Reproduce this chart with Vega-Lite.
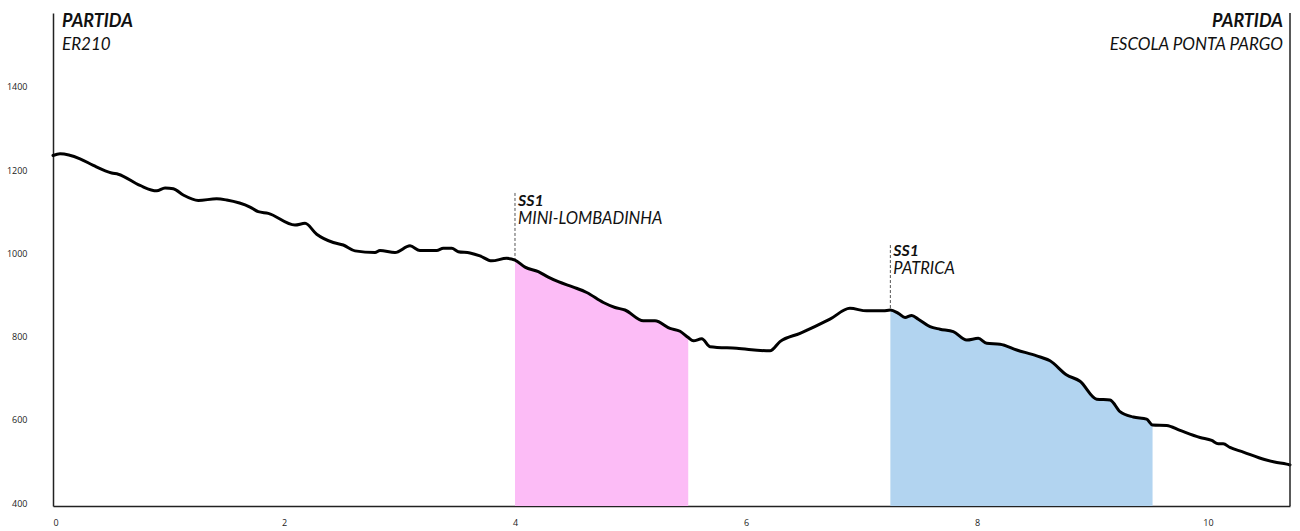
{
  "$schema": "https://vega.github.io/schema/vega-lite/v6.json",
  "width": 1237,
  "height": 493,
  "autosize": "none",
  "padding": {"left": 53, "top": 13, "right": 10, "bottom": 25},
  "background": "white",
  "config": {
    "view": {"stroke": null},
    "font": "Lato",
    "axis": {"domainColor": "#222222", "domainWidth": 1.5, "ticks": false, "grid": false, "labelFont": "Open Sans", "labelFontSize": 9, "labelColor": "#222222", "title": null}
  },
  "datasets": {
    "profile": [
      {"km": 0, "elev": 1235}, {"km": 0.061, "elev": 1239}, {"km": 0.234, "elev": 1227}, {"km": 0.349, "elev": 1211},
      {"km": 0.508, "elev": 1193}, {"km": 0.565, "elev": 1190}, {"km": 0.753, "elev": 1163}, {"km": 0.898, "elev": 1150},
      {"km": 0.97, "elev": 1157}, {"km": 1.042, "elev": 1155}, {"km": 1.128, "elev": 1140}, {"km": 1.258, "elev": 1127},
      {"km": 1.417, "elev": 1131}, {"km": 1.504, "elev": 1128}, {"km": 1.706, "elev": 1111}, {"km": 1.777, "elev": 1100},
      {"km": 1.864, "elev": 1096}, {"km": 2.095, "elev": 1068}, {"km": 2.182, "elev": 1072}, {"km": 2.283, "elev": 1046},
      {"km": 2.427, "elev": 1026}, {"km": 2.513, "elev": 1020}, {"km": 2.615, "elev": 1006}, {"km": 2.788, "elev": 1002},
      {"km": 2.831, "elev": 1007}, {"km": 2.961, "elev": 1002}, {"km": 3.091, "elev": 1018}, {"km": 3.177, "elev": 1007},
      {"km": 3.322, "elev": 1007}, {"km": 3.379, "elev": 1012}, {"km": 3.452, "elev": 1012}, {"km": 3.509, "elev": 1004},
      {"km": 3.61, "elev": 1001}, {"km": 3.697, "elev": 994}, {"km": 3.798, "elev": 982}, {"km": 3.928, "elev": 988},
      {"km": 4.0, "elev": 984, "seg": "a"}, {"km": 4.087, "elev": 967, "seg": "a"}, {"km": 4.202, "elev": 956, "seg": "a"},
      {"km": 4.288, "elev": 943, "seg": "a"}, {"km": 4.375, "elev": 932, "seg": "a"}, {"km": 4.505, "elev": 919, "seg": "a"},
      {"km": 4.621, "elev": 906, "seg": "a"}, {"km": 4.765, "elev": 882, "seg": "a"}, {"km": 4.866, "elev": 870, "seg": "a"},
      {"km": 4.952, "elev": 864, "seg": "a"}, {"km": 5.111, "elev": 838, "seg": "a"}, {"km": 5.212, "elev": 838, "seg": "a"},
      {"km": 5.342, "elev": 820, "seg": "a"}, {"km": 5.429, "elev": 813, "seg": "a"}, {"km": 5.5, "elev": 798, "seg": "a"},
      {"km": 5.545, "elev": 790}, {"km": 5.617, "elev": 795}, {"km": 5.688, "elev": 776}, {"km": 5.919, "elev": 772},
      {"km": 6.208, "elev": 766}, {"km": 6.294, "elev": 788}, {"km": 6.468, "elev": 808}, {"km": 6.727, "elev": 842},
      {"km": 6.9, "elev": 868}, {"km": 7.045, "elev": 862}, {"km": 7.189, "elev": 862},
      {"km": 7.25, "elev": 864, "seg": "b"}, {"km": 7.319, "elev": 856, "seg": "b"}, {"km": 7.377, "elev": 846, "seg": "b"},
      {"km": 7.435, "elev": 851, "seg": "b"}, {"km": 7.492, "elev": 842, "seg": "b"}, {"km": 7.593, "elev": 824, "seg": "b"},
      {"km": 7.68, "elev": 818, "seg": "b"}, {"km": 7.795, "elev": 812, "seg": "b"}, {"km": 7.911, "elev": 792, "seg": "b"},
      {"km": 8.011, "elev": 796, "seg": "b"}, {"km": 8.084, "elev": 784, "seg": "b"}, {"km": 8.199, "elev": 782, "seg": "b"},
      {"km": 8.344, "elev": 768, "seg": "b"}, {"km": 8.517, "elev": 754, "seg": "b"}, {"km": 8.632, "elev": 742, "seg": "b"},
      {"km": 8.777, "elev": 708, "seg": "b"}, {"km": 8.892, "elev": 693, "seg": "b"}, {"km": 9.036, "elev": 650, "seg": "b"},
      {"km": 9.152, "elev": 648, "seg": "b"}, {"km": 9.238, "elev": 620, "seg": "b"}, {"km": 9.353, "elev": 607, "seg": "b"},
      {"km": 9.469, "elev": 602, "seg": "b"}, {"km": 9.52, "elev": 588, "seg": "b"},
      {"km": 9.642, "elev": 587}, {"km": 9.758, "elev": 575}, {"km": 9.931, "elev": 558}, {"km": 10.032, "elev": 551},
      {"km": 10.089, "elev": 543}, {"km": 10.132, "elev": 543}, {"km": 10.19, "elev": 534}, {"km": 10.306, "elev": 523},
      {"km": 10.489, "elev": 505}, {"km": 10.576, "elev": 499}, {"km": 10.681, "elev": 494}, {"km": 10.71, "elev": 492}
    ],
    "stages": [
      {"km": 4.0, "top": 1145, "base": 984},
      {"km": 7.25, "top": 1020, "base": 864}
    ],
    "labels": [
      {"km": 4.0, "elev": 1114, "label": "SS1", "kind": "title", "group": "stage"},
      {"km": 4.0, "elev": 1071, "label": "MINI-LOMBADINHA", "kind": "sub", "group": "stage"},
      {"km": 7.25, "elev": 994, "label": "SS1", "kind": "title", "group": "stage"},
      {"km": 7.25, "elev": 951, "label": "PATRICA", "kind": "sub", "group": "stage"},
      {"km": 0, "elev": 1544, "label": "PARTIDA", "kind": "title", "group": "startL"},
      {"km": 0, "elev": 1489, "label": "ER210", "kind": "sub", "group": "startL"},
      {"km": 10.71, "elev": 1544, "label": "PARTIDA", "kind": "title", "group": "startR"},
      {"km": 10.71, "elev": 1489, "label": "ESCOLA PONTA PARGO", "kind": "sub", "group": "startR"}
    ]
  },
  "layer": [
    {
      "data": {"name": "profile"},
      "transform": [{"filter": "datum.seg != null"}],
      "mark": {"type": "area", "interpolate": "monotone", "opacity": 1},
      "encoding": {
        "x": {"field": "km", "type": "quantitative", "scale": {"domain": [0, 10.71], "nice": false, "zero": false}, "axis": {"values": [0, 2, 4, 6, 8, 10], "format": "d", "labelPadding": 12, "labelAngle": 0}},
        "y": {"field": "elev", "type": "quantitative", "scale": {"domain": [393.5, 1577], "nice": false, "zero": false}, "axis": {"values": [400, 600, 800, 1000, 1200, 1400], "format": "d", "labelPadding": 26}},
        "y2": {"datum": 393.5},
        "color": {"field": "seg", "type": "nominal", "scale": {"domain": ["a", "b"], "range": ["#fcbcf6", "#b2d4f0"]}, "legend": null}
      }
    },
    {
      "data": {"name": "stages"},
      "mark": {"type": "rule", "color": "#555555", "strokeWidth": 1, "strokeDash": [3, 2]},
      "encoding": {
        "x": {"field": "km", "type": "quantitative"},
        "y": {"field": "top", "type": "quantitative"},
        "y2": {"field": "base"}
      }
    },
    {
      "data": {"name": "profile"},
      "mark": {"type": "line", "interpolate": "monotone", "color": "#000000", "strokeWidth": 3, "strokeJoin": "round", "strokeCap": "round"},
      "encoding": {
        "x": {"field": "km", "type": "quantitative"},
        "y": {"field": "elev", "type": "quantitative"}
      }
    },
    {
      "data": {"values": [{"edge": 10.71}]},
      "mark": {"type": "rule", "color": "#222222", "strokeWidth": 1.5},
      "encoding": {"x": {"field": "edge", "type": "quantitative"}}
    },
    {
      "data": {"name": "labels"},
      "transform": [{"filter": "datum.group == 'stage' && datum.kind == 'title'"}],
      "mark": {"type": "text", "align": "left", "baseline": "alphabetic", "dx": 3, "fontSize": 16, "fontWeight": "bold", "fontStyle": "italic", "color": "#111111"},
      "encoding": {"x": {"field": "km", "type": "quantitative"}, "y": {"field": "elev", "type": "quantitative"}, "text": {"field": "label"}}
    },
    {
      "data": {"name": "labels"},
      "transform": [{"filter": "datum.group == 'stage' && datum.kind == 'sub'"}],
      "mark": {"type": "text", "align": "left", "baseline": "alphabetic", "dx": 3, "fontSize": 16.5, "fontStyle": "italic", "color": "#111111"},
      "encoding": {"x": {"field": "km", "type": "quantitative"}, "y": {"field": "elev", "type": "quantitative"}, "text": {"field": "label"}}
    },
    {
      "data": {"name": "labels"},
      "transform": [{"filter": "datum.group == 'startL' && datum.kind == 'title'"}],
      "mark": {"type": "text", "align": "left", "baseline": "alphabetic", "dx": 9, "fontSize": 18, "fontWeight": "bold", "fontStyle": "italic", "color": "#111111"},
      "encoding": {"x": {"field": "km", "type": "quantitative"}, "y": {"field": "elev", "type": "quantitative"}, "text": {"field": "label"}}
    },
    {
      "data": {"name": "labels"},
      "transform": [{"filter": "datum.group == 'startL' && datum.kind == 'sub'"}],
      "mark": {"type": "text", "align": "left", "baseline": "alphabetic", "dx": 9, "fontSize": 17, "fontStyle": "italic", "color": "#111111"},
      "encoding": {"x": {"field": "km", "type": "quantitative"}, "y": {"field": "elev", "type": "quantitative"}, "text": {"field": "label"}}
    },
    {
      "data": {"name": "labels"},
      "transform": [{"filter": "datum.group == 'startR' && datum.kind == 'title'"}],
      "mark": {"type": "text", "align": "right", "baseline": "alphabetic", "dx": -7, "fontSize": 18, "fontWeight": "bold", "fontStyle": "italic", "color": "#111111"},
      "encoding": {"x": {"field": "km", "type": "quantitative"}, "y": {"field": "elev", "type": "quantitative"}, "text": {"field": "label"}}
    },
    {
      "data": {"name": "labels"},
      "transform": [{"filter": "datum.group == 'startR' && datum.kind == 'sub'"}],
      "mark": {"type": "text", "align": "right", "baseline": "alphabetic", "dx": -7, "fontSize": 17, "fontStyle": "italic", "color": "#111111"},
      "encoding": {"x": {"field": "km", "type": "quantitative"}, "y": {"field": "elev", "type": "quantitative"}, "text": {"field": "label"}}
    }
  ]
}
